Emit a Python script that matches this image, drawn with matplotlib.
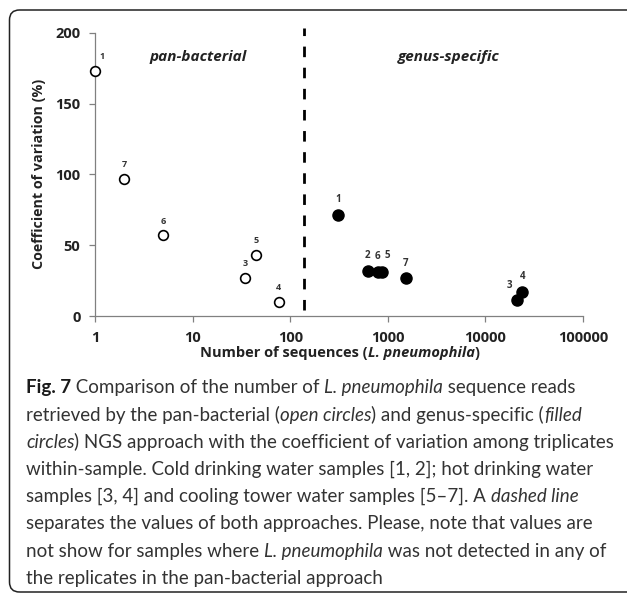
import matplotlib
matplotlib.use("Agg")
import matplotlib.pyplot as plt
from matplotlib.patches import FancyBboxPatch

# values
open_x = [1, 2, 5, 34.5, 44.5, 76]
open_cv = [173, 97, 57, 27, 43, 10]
open_ids = ["1", "7", "6", "3", "5", "4"]

filled_x = [308, 620, 785, 870, 1520, 21000, 24000]
filled_cv = [71.5, 32, 31, 31, 26.5, 11, 17]
filled_ids = ["1", "2", "6", "5", "7", "3", "4"]

separator_x = 140
x_ticks = [1, 10, 100, 1000, 10000, 100000]
y_ticks = [0, 50, 100, 150, 200]

chart_font = "Open Sans"
cap_font = "Lato"

fig = plt.figure(figsize=(6.27, 5.94), dpi=100)
W, H = fig.get_size_inches() * fig.dpi
renderer = fig.canvas.get_renderer()

# rounded frame round the whole figure
frame = FancyBboxPatch((0.095, 0.02), 6.4, 5.82,
                       boxstyle="round,pad=0,rounding_size=0.1",
                       transform=fig.dpi_scale_trans, fill=False,
                       edgecolor="#222222", linewidth=1.1)
fig.patches.append(frame)

ax = fig.add_axes([0.1515, 0.468, 0.7783, 0.477])
ax.set_xscale("log")
ax.set_xlim(1, 100000)
ax.set_ylim(0, 200)

ax.plot(open_x, open_cv, "o", markersize=7, markerfacecolor="white",
        markeredgecolor="black", markeredgewidth=1.2, clip_on=False, zorder=3)
ax.plot(filled_x, filled_cv, "o", markersize=8, color="black", clip_on=False, zorder=3)

# little sample numbers above the points
open_off = {"1": (5, 7)}
filled_off = {"5": (4, 8), "3": (-5, 7)}
for x, y, s in zip(open_x, open_cv, open_ids):
    ax.annotate(s, (x, y), xytext=open_off.get(s, (0, 7)), textcoords="offset points",
                ha="center", va="bottom", fontsize=6.5, fontweight="bold",
                family=chart_font, color="#333333")
for x, y, s in zip(filled_x, filled_cv, filled_ids):
    ax.annotate(s, (x, y), xytext=filled_off.get(s, (0, 7)), textcoords="offset points",
                ha="center", va="bottom", fontsize=7, fontweight="bold",
                family=chart_font, color="#333333")

ax.plot([separator_x, separator_x], [4, 203], color="black", linewidth=2,
        dashes=(3.8, 3.8), clip_on=False)

ax.text(11.4, 183, "pan-bacterial", ha="center", va="center", fontsize=11,
        fontweight="bold", style="italic", family=chart_font, color="#222222")
ax.text(4170, 183, "genus-specific", ha="center", va="center", fontsize=11,
        fontweight="bold", style="italic", family=chart_font, color="#222222")

ax.set_xticks(x_ticks)
ax.set_xticklabels([str(t) for t in x_ticks])
ax.set_yticks(y_ticks)
ax.minorticks_off()
for lab in ax.get_xticklabels() + ax.get_yticklabels():
    lab.set_fontfamily(chart_font)
    lab.set_fontweight("bold")
    lab.set_fontsize(10.5)
    lab.set_color("#222222")
ax.tick_params(direction="out", length=4.5, width=0.9, color="#808080", pad=6)
for side in ["top", "right"]:
    ax.spines[side].set_visible(False)
for side in ["left", "bottom"]:
    ax.spines[side].set_color("#808080")
    ax.spines[side].set_linewidth(0.9)

ax.set_ylabel("Coefficient of variation (%)", fontsize=10.3, fontweight="bold",
              family=chart_font, color="#222222", labelpad=7)


def seg_width(s, size, family, **kw):
    # pad with bars so leading/trailing blanks are counted
    t1 = fig.text(0, 0, "|" + s + "|", fontsize=size, family=family, **kw)
    t2 = fig.text(0, 0, "||", fontsize=size, family=family, **kw)
    w = t1.get_window_extent(renderer).width - t2.get_window_extent(renderer).width
    t1.remove()
    t2.remove()
    return w


# x label with the italic species name, centred under the axis
xlab = [("Number of sequences (", "normal"), ("L. pneumophila", "italic"), (")", "normal")]
xl_size = 10.5
widths = [seg_width(s, xl_size, chart_font, weight="bold", style=st) for s, st in xlab]
x = 340 - sum(widths) / 2
for (s, st), w in zip(xlab, widths):
    fig.text(x / W, 1 - 353 / H, s, fontsize=xl_size, family=chart_font, weight="bold",
             style=st, va="center", ha="left", color="#222222")
    x += w

# caption, drawn piece by piece so italics sit inline
caption = [
    [("Fig. 7", "b"), (" Comparison of the number of ", "n"), ("L. pneumophila", "i"),
     (" sequence reads", "n")],
    [("retrieved by the pan-bacterial (", "n"), ("open circles", "i"),
     (") and genus-specific (", "n"), ("filled", "i")],
    [("circles", "i"), (") NGS approach with the coefficient of variation among triplicates", "n")],
    [("within-sample. Cold drinking water samples [1, 2]; hot drinking water", "n")],
    [("samples [3, 4] and cooling tower water samples [5\u20137]. A ", "n"), ("dashed line", "i")],
    [("separates the values of both approaches. Please, note that values are", "n")],
    [("not show for samples where ", "n"), ("L. pneumophila", "i"),
     (" was not detected in any of", "n")],
    [("the replicates in the pan-bacterial approach", "n")],
]
cap_size = 13.5
styles = {"n": dict(weight="normal", style="normal"),
          "i": dict(weight="normal", style="italic"),
          "b": dict(weight="bold", style="normal")}

y0 = 388
for i, line in enumerate(caption):
    x = 26
    y = y0 + i * 27.2
    for s, st in line:
        fig.text(x / W, 1 - y / H, s, fontsize=cap_size, family=cap_font,
                 va="center", ha="left", color="#1a1a1a" if st == "b" else "#333333",
                 **styles[st])
        x += seg_width(s, cap_size, cap_font, **styles[st])

fig.savefig("out.png", dpi=100)
